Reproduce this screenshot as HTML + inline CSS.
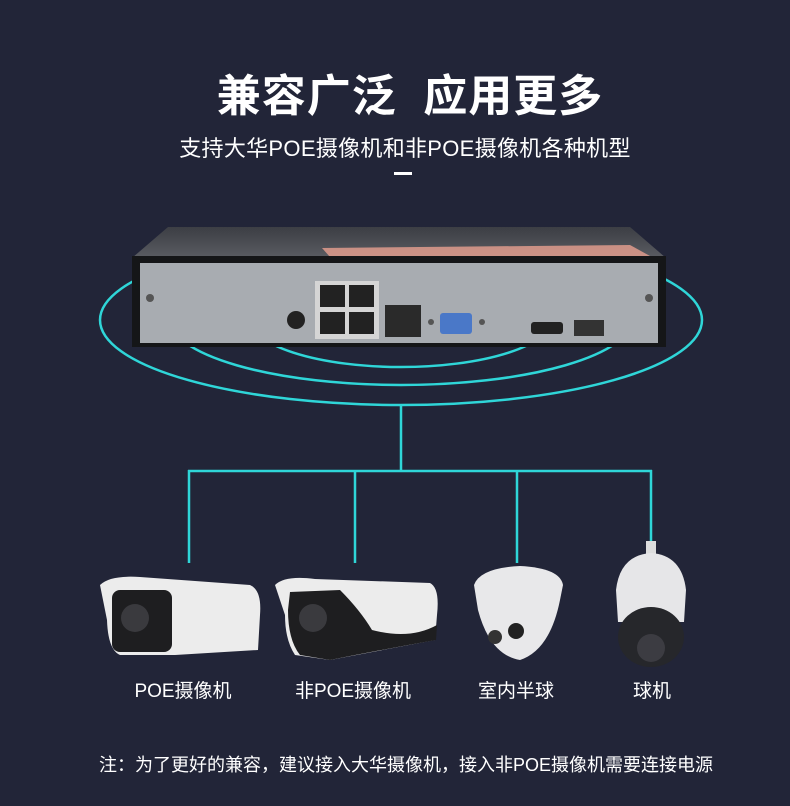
<!DOCTYPE html>
<html><head><meta charset="utf-8"><style>
html,body{margin:0;padding:0;background:#222538;}
body{width:790px;height:806px;position:relative;overflow:hidden;font-family:"Liberation Sans","Noto Sans CJK SC",sans-serif;color:#fff;}
.t{position:absolute;left:0;width:790px;text-align:center;white-space:nowrap;}
</style></head><body>
<div class="t" style="left:15px;top:60px;font-size:44px;font-weight:bold;letter-spacing:1px;">兼容广泛&nbsp;&nbsp;应用更多</div>
<div class="t" style="left:10px;top:131px;font-size:22px;letter-spacing:0.3px;">支持大华POE摄像机和非POE摄像机各种机型</div>
<div style="position:absolute;left:394px;top:172px;width:18px;height:3px;background:#fff"></div>
<svg width="790" height="806" style="position:absolute;left:0;top:0" xmlns="http://www.w3.org/2000/svg">
<defs><linearGradient id="g" x1="0" y1="0" x2="0" y2="1"><stop offset="0" stop-color="#3c3e44"/><stop offset="1" stop-color="#5a5c62"/></linearGradient></defs>
<g fill="none" stroke="#2fd6d8" stroke-width="2.5">
<ellipse cx="401" cy="320" rx="301" ry="85"/>
<ellipse cx="401" cy="318" rx="232" ry="67"/>
<ellipse cx="401" cy="318" rx="152" ry="49"/>
</g>
<polygon points="168,227 630,227 666,258 132,258" fill="url(#g)"/>
<polygon points="322,248 630,245 650,256 330,257" fill="#e8a090" opacity="0.8"/>
<rect x="132" y="256" width="534" height="91" fill="#151618"/>
<rect x="140" y="263" width="518" height="80" fill="#a8acb1"/>
<circle cx="150" cy="298" r="4" fill="#555"/><circle cx="649" cy="298" r="4" fill="#555"/>
<circle cx="296" cy="320" r="9" fill="#222"/>
<rect x="315" y="281" width="64" height="58" fill="#d5d5d5"/>
<rect x="320" y="285" width="25" height="22" fill="#222"/><rect x="349" y="285" width="25" height="22" fill="#222"/>
<rect x="320" y="312" width="25" height="22" fill="#222"/><rect x="349" y="312" width="25" height="22" fill="#222"/>
<rect x="385" y="305" width="36" height="32" fill="#2a2a2a"/>
<rect x="440" y="313" width="32" height="21" rx="3" fill="#4a78c8"/>
<circle cx="431" cy="322" r="3" fill="#555"/><circle cx="482" cy="322" r="3" fill="#555"/>
<rect x="531" y="322" width="32" height="12" rx="3" fill="#222"/>
<rect x="574" y="320" width="30" height="16" fill="#333"/>
<g stroke="#2fd6d8" stroke-width="2.5" fill="none">
<line x1="401" y1="405" x2="401" y2="471"/>
<line x1="188" y1="471" x2="652" y2="471"/>
<line x1="189" y1="470" x2="189" y2="563"/>
<line x1="355" y1="470" x2="355" y2="563"/>
<line x1="517" y1="470" x2="517" y2="563"/>
<line x1="651" y1="470" x2="651" y2="545"/>
</g>
<path d="M100,585 Q110,575 140,577 L250,585 Q262,590 260,615 L258,650 L175,655 L165,655 L120,655 Q108,650 107,620 Z" fill="#ececec"/>
<rect x="112" y="590" width="60" height="62" rx="8" fill="#1e1e20"/>
<circle cx="135" cy="618" r="14" fill="#3a3a3e"/>
<path d="M275,585 Q285,575 315,579 L430,583 Q440,588 437,615 L435,640 L330,660 L295,655 Q285,640 285,615 Z" fill="#ececec"/>
<path d="M290,592 L340,590 Q360,610 372,630 Q410,640 437,625 L436,640 Q380,650 330,660 L300,655 Q288,640 288,610 Z" fill="#1e1e20"/>
<circle cx="313" cy="618" r="14" fill="#3a3a3e"/>
<path d="M474,585 Q480,568 520,566 Q560,568 563,585 L560,600 Q550,650 520,660 Q490,655 478,610 Z" fill="#e8e8ea"/>
<circle cx="495" cy="637" r="7" fill="#333"/><circle cx="516" cy="631" r="8" fill="#222"/>
<rect x="646" y="541" width="10" height="14" fill="#ddd"/>
<path d="M616,590 Q620,555 651,553 Q682,555 686,590 L684,622 L618,622 Z" fill="#e6e6e8"/>
<ellipse cx="651" cy="637" rx="33" ry="30" fill="#26272b"/>
<circle cx="651" cy="648" r="14" fill="#3c3c42"/>
</svg>
<div class="t" style="left:108px;width:150px;top:676px;font-size:19px;">POE摄像机</div>
<div class="t" style="left:278px;width:150px;top:676px;font-size:19px;">非POE摄像机</div>
<div class="t" style="left:441px;width:150px;top:676px;font-size:19px;">室内半球</div>
<div class="t" style="left:577px;width:150px;top:676px;font-size:19px;">球机</div>
<div class="t" style="left:11px;top:751px;font-size:18px;">注：为了更好的兼容，建议接入大华摄像机，接入非POE摄像机需要连接电源</div>
</body></html>
